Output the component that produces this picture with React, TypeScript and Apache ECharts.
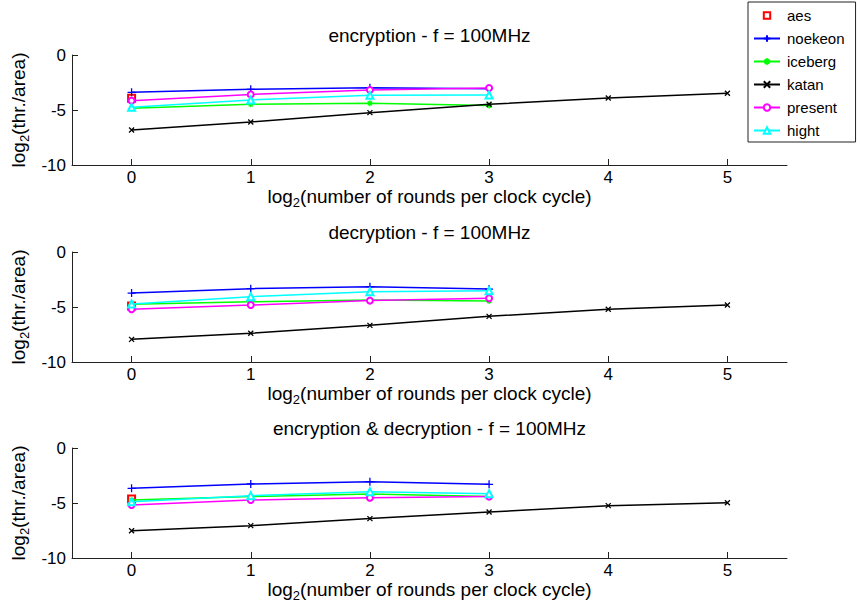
import React, { useEffect, useRef } from "react";
import * as echarts from "echarts";

const FONT = "'Liberation Sans', Arial, Helvetica, sans-serif";

const rounds = [0, 1, 2, 3, 4, 5];
const xTicks = [0, 1, 2, 3, 4, 5];
const yTicks = [0, -5, -10];
const seriesNames = ["aes", "noekeon", "iceberg", "katan", "present", "hight"];
const panelTitles = [
  "encryption - f = 100MHz",
  "decryption - f = 100MHz",
  "encryption & decryption - f = 100MHz",
];

// encryption
const encAes = [-3.94];
const encNoekeon = [-3.39, -3.12, -2.97, -3.06];
const encIceberg = [-4.85, -4.48, -4.39, -4.6];
const encKatan = [-6.82, -6.09, -5.24, -4.48, -3.91, -3.48];
const encPresent = [-4.15, -3.58, -3.18, -3.0];
const encHight = [-4.76, -4.09, -3.67, -3.64];

// decryption
const decAes = [-4.9];
const decNoekeon = [-3.73, -3.33, -3.15, -3.37];
const decIceberg = [-4.76, -4.52, -4.36, -4.45];
const decKatan = [-7.94, -7.39, -6.67, -5.85, -5.21, -4.82];
const decPresent = [-5.21, -4.82, -4.42, -4.21];
const decHight = [-4.73, -4.06, -3.61, -3.52];

// encryption & decryption
const edAes = [-4.64];
const edNoekeon = [-3.67, -3.27, -3.06, -3.3];
const edIceberg = [-4.73, -4.42, -4.18, -4.42];
const edKatan = [-7.52, -7.06, -6.42, -5.82, -5.24, -4.97];
const edPresent = [-5.18, -4.73, -4.52, -4.42];
const edHight = [-4.88, -4.33, -3.97, -4.15];

const panels = [
  [encAes, encNoekeon, encIceberg, encKatan, encPresent, encHight],
  [decAes, decNoekeon, decIceberg, decKatan, decPresent, decHight],
  [edAes, edNoekeon, edIceberg, edKatan, edPresent, edHight],
];

const colors = ["#ff0000", "#0000ff", "#00ff00", "#000000", "#ff00ff", "#00ffff"];
const symbols = [
  "emptyRect",
  "path://M5,0L5,10M0,5L10,5",
  "path://M5,0L5,10M0,5L10,5M1.5,1.5L8.5,8.5M8.5,1.5L1.5,8.5",
  "path://M0,0L10,10M10,0L0,10",
  "emptyCircle",
  "emptyTriangle",
];
const symbolSizes = [7, 8, 6, 5, 6, 7];

const gridTops = [55, 252, 448];
const GRID_LEFT = 72;
const GRID_WIDTH = 715;
const GRID_HEIGHT = 110;

export default function App() {
  const ref = useRef<HTMLDivElement>(null);
  useEffect(() => {
    if (!ref.current) return;
    const chart = echarts.init(ref.current, undefined, { renderer: "svg" });

    const grids = gridTops.map((t) => ({
      left: GRID_LEFT,
      top: t,
      width: GRID_WIDTH,
      height: GRID_HEIGHT,
      containLabel: false,
    }));

    const rich = {
      a: { fontSize: 19, fontFamily: FONT, color: "#000", lineHeight: 22, verticalAlign: "top" },
      s: { fontSize: 13, fontFamily: FONT, color: "#000", lineHeight: 12, verticalAlign: "bottom" },
    };

    const xAxes = gridTops.map((_, i) => ({
      type: "value",
      gridIndex: i,
      min: -0.5,
      max: 5.5,
      name: "{a|log}{s|2}{a|(number of rounds per clock cycle)}",
      nameLocation: "middle",
      nameGap: 22,
      nameTextStyle: { rich },
      axisLine: { show: true, onZero: false, lineStyle: { color: "#222", width: 1 } },
      axisTick: {
        show: true,
        inside: true,
        length: 6,
        customValues: xTicks,
        lineStyle: { color: "#222" },
      },
      axisLabel: {
        customValues: xTicks,
        fontSize: 17,
        fontFamily: FONT,
        color: "#000",
        margin: 4,
      },
      splitLine: { show: false },
    }));

    const yAxes = gridTops.map((_, i) => ({
      type: "value",
      gridIndex: i,
      min: -10,
      max: 0,
      interval: 5,
      name: "{a|log}{s|2}{a|(thr./area)}",
      nameLocation: "middle",
      nameGap: 40,
      nameRotate: 90,
      nameTextStyle: { rich },
      axisLine: { show: true, onZero: false, lineStyle: { color: "#222", width: 1 } },
      axisTick: {
        show: true,
        inside: true,
        length: 6,
        customValues: yTicks,
        lineStyle: { color: "#222" },
      },
      axisLabel: {
        customValues: yTicks,
        fontSize: 17,
        fontFamily: FONT,
        color: "#000",
        margin: 6,
      },
      splitLine: { show: false },
    }));

    const series: any[] = [];
    panels.forEach((panel, pi) => {
      panel.forEach((vals, si) => {
        series.push({
          name: seriesNames[si],
          type: "line",
          xAxisIndex: pi,
          yAxisIndex: pi,
          data: vals.map((v, k) => [rounds[k], v]),
          symbol: symbols[si],
          symbolSize: symbolSizes[si],
          showAllSymbol: true,
          color: colors[si],
          lineStyle: {
            color: colors[si],
            width: 1.5,
            opacity: si === 0 ? 0 : 1,
          },
          itemStyle: {
            color: colors[si],
            borderColor: colors[si],
            borderWidth: 1.3,
          },
          z: 2 + si,
        });
      });
    });

    const graphics = panelTitles.map((t, i) => ({
      type: "text",
      x: GRID_LEFT + GRID_WIDTH / 2,
      y: gridTops[i] - 20,
      style: {
        text: t,
        align: "center",
        verticalAlign: "middle",
        fontSize: 19,
        fontFamily: FONT,
        fill: "#000",
      },
    }));

    chart.setOption({
      animation: false,
      backgroundColor: "#fff",
      grid: grids,
      xAxis: xAxes,
      yAxis: yAxes,
      series,
      graphic: graphics,
      legend: {
        orient: "vertical",
        left: 748,
        top: 2,
        padding: [6, 11, 4, 5],
        itemGap: 8,
        itemWidth: 26,
        itemHeight: 8,
        borderColor: "#222",
        borderWidth: 1,
        backgroundColor: "#fff",
        data: seriesNames,
        textStyle: {
          fontSize: 15,
          lineHeight: 14,
          fontFamily: FONT,
          color: "#000",
          padding: [0, 0, 0, 2],
        },
      },
    });
    return () => chart.dispose();
  }, []);
  return (
    <div
      ref={ref}
      style={{ position: "absolute", left: 0, top: 0, width: 860, height: 610 }}
    />
  );
}
